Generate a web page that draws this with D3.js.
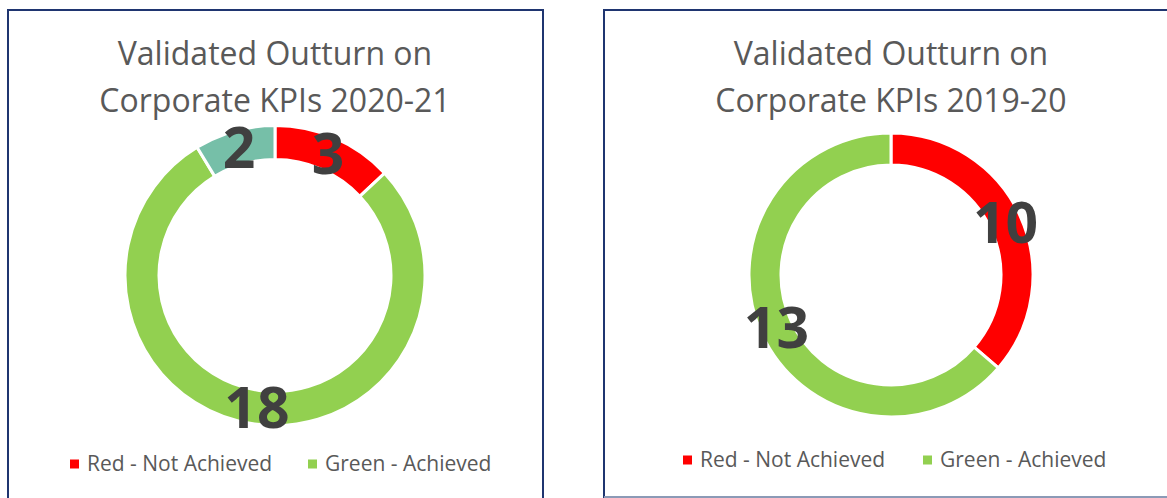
<!DOCTYPE html>
<html>
<head>
<meta charset="utf-8">
<script src="https://cdn.jsdelivr.net/npm/d3@7"></script>
<style>
  body { margin: 0; background: #fff; }
  svg { display: block; font-family: 'Open Sans', sans-serif; }
</style>
</head>
<body>
<svg></svg>
<script>
const size = {w: 1167, h: 498};
const svg = d3.select('svg').attr('width', size.w).attr('height', size.h);

// categories + colours
const categories = ['Red - Not Achieved', 'Green - Achieved', 'Other'];
const catColors = ['#ff0000', '#92d050', '#76bfa8'];
const legendCats = ['Red - Not Achieved', 'Green - Achieved'];

// 2020-21 : slices clockwise from 12 o'clock
const slices2021 = ['Red - Not Achieved', 'Green - Achieved', 'Other'];
const values2021 = [3, 18, 2];
const labels2021 = ['3', '18', '2'];

// 2019-20 : arc shares, labels as printed
const slices1920 = ['Red - Not Achieved', 'Green - Achieved'];
const values1920 = [10, 17.5];
const labels1920 = ['10', '13'];

const colorScale = d3.scaleOrdinal().domain(categories).range(catColors);

// panel frames
svg.append('rect').attr('x', 8).attr('y', 10).attr('width', 535).attr('height', 500)
    .attr('fill', 'none').attr('stroke', '#1f3570').attr('stroke-width', 2);
svg.append('rect').attr('x', 604).attr('y', 10).attr('width', 580).attr('height', 487)
    .attr('fill', 'none').attr('stroke', '#1f3570').attr('stroke-width', 2);
// lighter bottom edge of right panel
svg.append('line').attr('x1', 604).attr('x2', 1167).attr('y1', 497).attr('y2', 497)
    .attr('stroke', '#8b9ab6').attr('stroke-width', 2);

drawPanel({
    cx: 275, cy: 275.5, r: 150, ri: 116,
    title: ['Validated Outturn on', 'Corporate KPIs 2020-21'], titleY: 65,
    cats: slices2021, values: values2021, labels: labels2021,
    legendY: 464, legendX: [70, 308]
});

drawPanel({
    cx: 891, cy: 275, r: 142, ri: 110,
    title: ['Validated Outturn on', 'Corporate KPIs 2019-20'], titleY: 65,
    cats: slices1920, values: values1920, labels: labels1920,
    legendY: 460, legendX: [683, 923]
});

function drawPanel(p) {
    const g = svg.append('g');

    // title
    g.selectAll('text.title')
        .data(p.title)
        .join('text')
        .classed('title', true)
        .attr('x', p.cx)
        .attr('y', (d, i) => p.titleY + i * 46.5)
        .attr('text-anchor', 'middle')
        .attr('fill', '#595959')
        .style('font-size', '32px')
        .text(d => d);

    const pie = d3.pie().sort(null).value(d => d.v);
    const arcs = pie(p.values.map((v, i) => ({v: v, cat: p.cats[i], label: p.labels[i]})));
    const arc = d3.arc().innerRadius(p.ri).outerRadius(p.r);

    const dg = g.append('g').attr('transform', `translate(${p.cx},${p.cy})`);
    dg.selectAll('path')
        .data(arcs)
        .join('path')
        .attr('d', arc)
        .attr('fill', d => colorScale(d.data.cat))
        .attr('stroke', '#fff')
        .attr('stroke-width', 3);

    // data labels at slice centroids
    dg.selectAll('text')
        .data(arcs)
        .join('text')
        .attr('x', d => arc.centroid(d)[0])
        .attr('y', d => arc.centroid(d)[1])
        .attr('dy', '0.36em')
        .attr('text-anchor', 'middle')
        .attr('fill', '#404040')
        .style('font-size', '57px')
        .style('font-weight', 'bold')
        .text(d => d.data.label);

    // legend
    const lg = g.selectAll('g.leg')
        .data(legendCats)
        .join('g')
        .classed('leg', true)
        .attr('transform', (d, i) => `translate(${p.legendX[i]},${p.legendY})`);
    lg.append('rect')
        .attr('x', 0).attr('y', -4.5).attr('width', 9).attr('height', 9)
        .attr('fill', d => colorScale(d));
    lg.append('text')
        .attr('x', 17).attr('y', 7)
        .attr('fill', '#595959')
        .style('font-size', '21px')
        .text(d => d);
}
</script>
</body>
</html>
